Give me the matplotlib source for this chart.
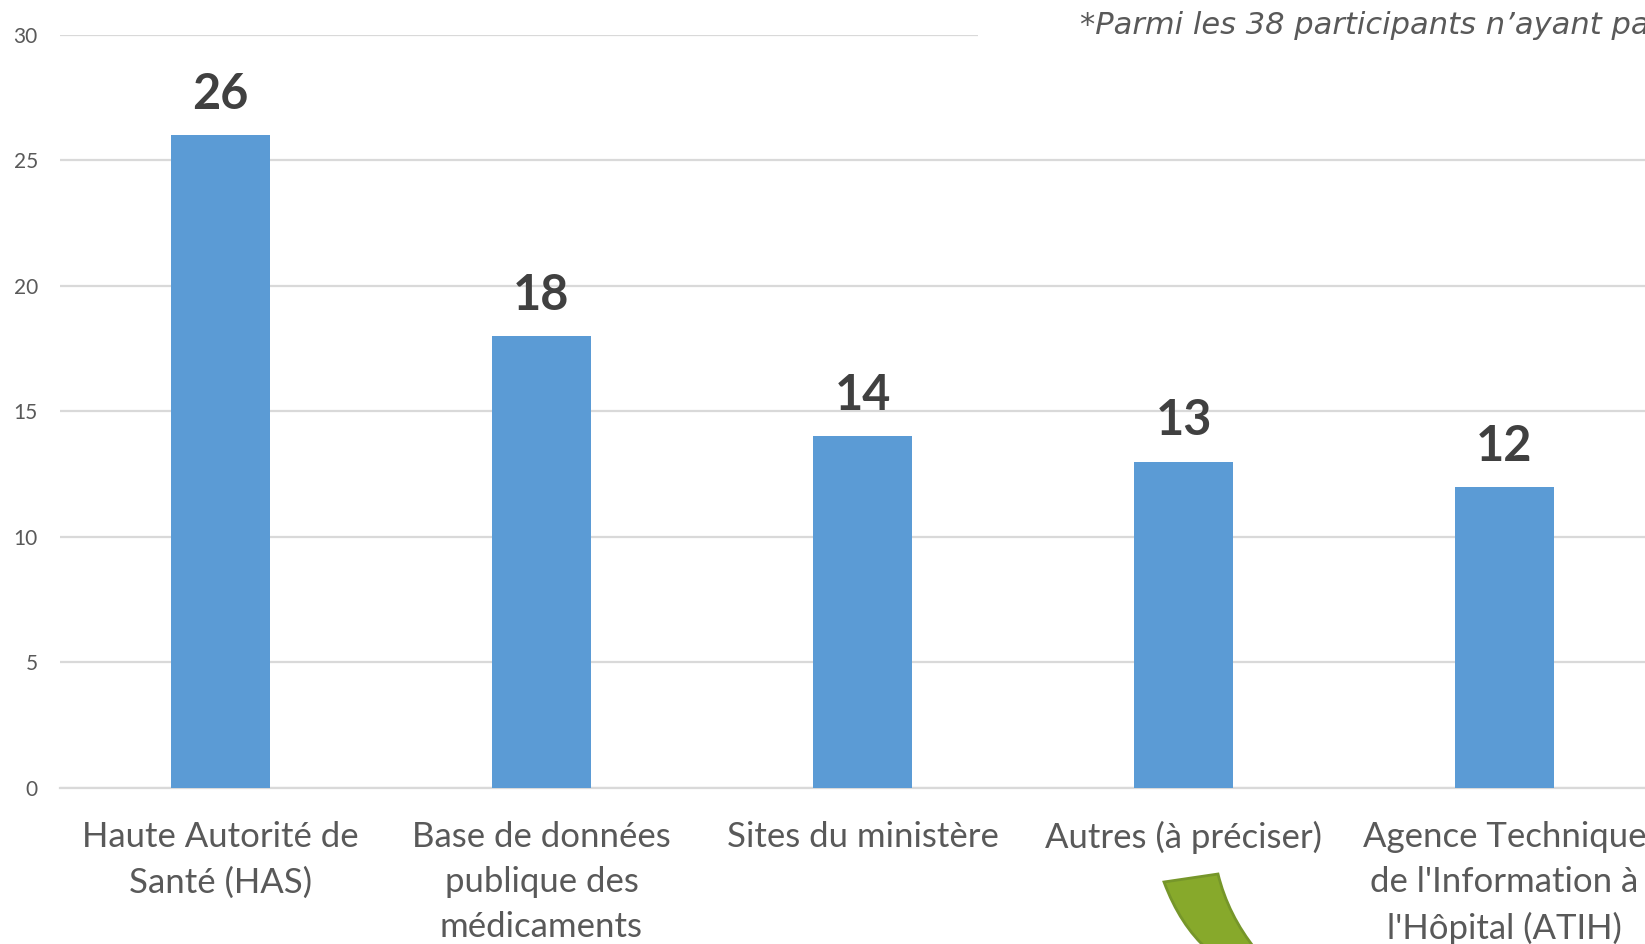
import matplotlib
matplotlib.use("Agg")
import matplotlib.pyplot as plt
from matplotlib.patches import PathPatch, Rectangle
from matplotlib.path import Path

categories = [
    "Haute Autorité de\nSanté (HAS)",
    "Base de données\npublique des\nmédicaments",
    "Sites du ministère",
    "Autres (à préciser)",
    "Agence Technique\nde l'Information à\nl'Hôpital (ATIH)",
]
values = [26, 18, 14, 13, 12]
yticks = [0, 5, 10, 15, 20, 25, 30]
footnote = "*Parmi les 38 participants n\u2019ayant pas"

W, H = 1645, 944
fig = plt.figure(figsize=(W / 100, H / 100), dpi=100)
fig.patch.set_facecolor("white")

ax_left = 60 / W
ax_bottom = (H - 788) / H
ax_top = (H - 34.6) / H
ax = fig.add_axes([ax_left, ax_bottom, 1 - ax_left, ax_top - ax_bottom])

slot = 321.0
x = list(range(len(values)))
ax.bar(x, values, width=0.31, color="#5B9BD5", zorder=3)
ax.set_ylim(0, 30)
ax.set_xlim(-0.5, -0.5 + (W - 60) / slot)

for xi, v in zip(x, values):
    ax.annotate(str(v), (xi, v), xytext=(0, 13), textcoords="offset points",
                ha="center", va="bottom", fontsize=35, fontweight="bold",
                color="#404040", family="Lato", zorder=4)

ax.set_yticks(yticks)
ax.set_yticklabels([str(t) for t in yticks], fontsize=15, color="#595959", family="Lato")
ax.set_xticks(x)
ax.set_xticklabels(categories, fontsize=25, color="#595959", family="Lato",
                   linespacing=1.5, va="top")
ax.tick_params(axis="both", length=0)
ax.tick_params(axis="x", pad=24)
ax.tick_params(axis="y", pad=16)
ax.yaxis.grid(True, color="#D9D9D9", linewidth=1.6, zorder=0)
ax.set_axisbelow(True)
for s in ["top", "right", "left"]:
    ax.spines[s].set_visible(False)
ax.spines["bottom"].set_color("#D9D9D9")
ax.spines["bottom"].set_linewidth(1.6)

# white box behind footnote (covers top gridline)
fig.patches.append(Rectangle((978 / W, 1 - 62 / H), 1, 62 / H, transform=fig.transFigure,
                             facecolor="white", edgecolor="none", zorder=5))
fig.text(1080 / W, 1 - 25 / H, footnote, fontsize=22, style="italic", color="#595959",
         family="DejaVu Sans", va="center", ha="left", zorder=6)

# decorative green curved shape at bottom
def fp(px, py):
    return (px / W, 1 - py / H)

verts = [fp(1164, 882), fp(1218, 874),
         fp(1228, 915), fp(1256, 950),
         fp(1208, 950),
         fp(1180, 925), fp(1164, 882), fp(1164, 882)]
codes = [Path.MOVETO, Path.LINETO,
         Path.CURVE3, Path.CURVE3,
         Path.LINETO,
         Path.CURVE3, Path.CURVE3, Path.CLOSEPOLY]
fig.patches.append(PathPatch(Path(verts, codes), transform=fig.transFigure,
                             facecolor="#87A92B", edgecolor="#76962A", linewidth=2, zorder=7))

fig.savefig("out.png", dpi=100)
